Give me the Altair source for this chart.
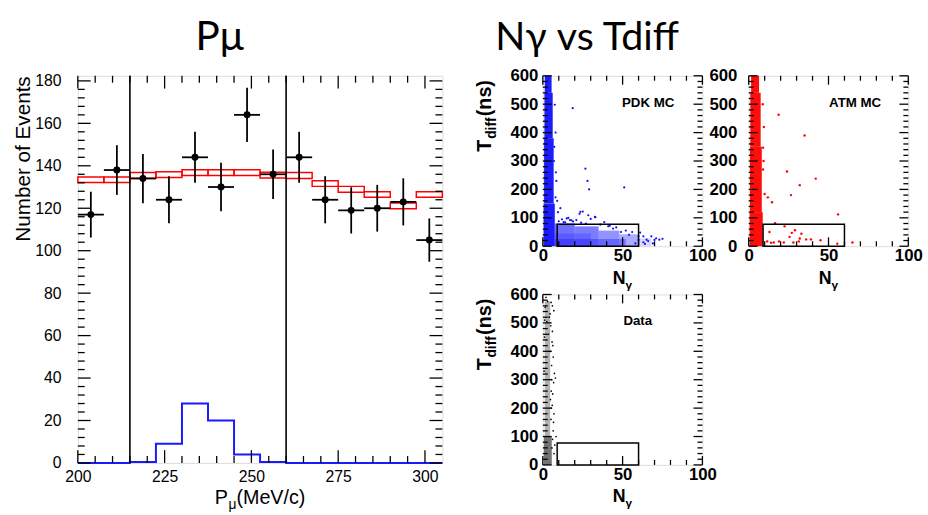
import altair as alt
import pandas as pd

# ---------------- Left panel : P_mu histogram ----------------
bin_lo = [200.0, 207.5, 215.0, 222.5, 230.0, 237.5, 245.0, 252.5, 260.0, 267.5, 275.0, 282.5, 290.0, 297.5]
bin_hi = [207.5, 215.0, 222.5, 230.0, 237.5, 245.0, 252.5, 260.0, 267.5, 275.0, 282.5, 290.0, 297.5, 305.0]
bin_mid = [203.75, 211.25, 218.75, 226.25, 233.75, 241.25, 248.75, 256.25, 263.75, 271.25, 278.75, 286.25, 293.75, 301.25]
data_n = [117, 138, 134, 124, 144, 130, 164, 136, 144, 124, 119, 120, 123, 105]
data_err = [10.8, 11.7, 11.6, 11.1, 12.0, 11.4, 12.8, 11.7, 12.0, 11.1, 10.9, 11.0, 11.1, 10.2]
mc_lo = [132.1, 132.1, 134.1, 134.5, 135.4, 135.4, 135.4, 134.2, 134.0, 130.3, 127.5, 125.2, 119.8, 125.2]
mc_hi = [134.7, 134.7, 136.8, 137.2, 138.1, 138.1, 138.1, 137.0, 136.8, 133.0, 130.3, 127.8, 122.5, 127.8]
sig_edge = [200.0, 207.5, 215.0, 222.5, 230.0, 237.5, 245.0, 252.5, 260.0, 267.5, 275.0, 282.5, 290.0, 297.5, 305.0]
sig_n = [0, 0, 0.5, 9, 28, 20, 4, 0.5, 0, 0, 0, 0, 0, 0, 0]
cut_x = [215, 260]

left_xticks = [200, 225, 250, 275, 300]
left_yticks = [0, 20, 40, 60, 80, 100, 120, 140, 160, 180]
left_xminor = [v for v in range(205, 305, 5) if v % 25 != 0]
left_yminor = [v for v in range(4, 182, 4) if v % 20 != 0]

# ---------------- Right panels : N_gamma vs T_diff ----------------
# dense regions of the scatter (x0, x1, y0, y1, opacity)
pdk_band_x0 = [1.2, 1.0, 0.8, 0.5, 7.5, 20, 35, 48, 60, 7.5, 7.5]
pdk_band_x1 = [5.5, 6.2, 6.8, 7.5, 20, 35, 48, 60, 68, 52, 30]
pdk_band_y0 = [540, 380, 150, 0, 0, 0, 0, 0, 0, 0, 0]
pdk_band_y1 = [600, 540, 380, 150, 80, 70, 55, 42, 28, 25, 45]
pdk_band_op = [0.95, 0.95, 0.95, 0.95, 0.6, 0.55, 0.45, 0.35, 0.16, 0.35, 0.22]
pdk_pt_x = [18.75, 26.7, 28, 29, 51, 11, 23, 25, 16, 18, 30, 33, 13, 38.5, 8, 7.5, 8.5, 7, 23.5, 28.5,
            32.6, 15, 17, 21, 60, 63, 65, 68, 70, 73, 60, 63, 58, 61, 54, 9, 8, 7.2, 8.2, 9.5,
            42, 46, 52, 56, 66, 71, 75, 64, 69, 10, 12, 14, 19, 24, 27, 36, 41, 44, 49]
pdk_pt_y = [486, 273, 230, 200, 207, 134, 114, 122, 100, 91, 96, 102, 85, 85, 172, 498, 230, 300, 121, 109,
            103, 98, 92, 92, 35, 35, 23, 35, 22, 23, 22, 14, 10, 48, 40, 160, 400, 350, 260, 120,
            72, 66, 55, 50, 18, 28, 26, 8, 10, 88, 95, 84, 87, 83, 80, 76, 70, 62, 50]

atm_band_x0 = [1.5, 1.0, 0.8, 0.6]
atm_band_x1 = [6.5, 7.5, 8.2, 8.8]
atm_band_y0 = [540, 350, 120, 0]
atm_band_y1 = [600, 540, 350, 120]
atm_band_op = [0.95, 0.95, 0.95, 0.95]
atm_pt_x = [18.75, 35, 9, 24, 42, 32, 26.5, 12, 14.6, 10, 56, 16.5, 22.5, 13, 29, 25.6, 32, 33, 39, 65,
            55.5, 45, 36, 27, 11.6, 15.7, 19, 22, 28, 31.4, 14, 9.5, 9, 9.3, 8.8]
atm_pt_y = [463, 390, 347, 263, 238, 215, 180, 172, 155, 184, 112, 81, 70, 50, 56, 33, 27, 44, 24, 13,
            9, 21, 24, 47, 17, 13, 17, 13, 13, 17, 12, 420, 270, 300, 500]

dat_band_x0 = [1.2, 0.7]
dat_band_x1 = [4.6, 5.6]
dat_band_y0 = [100, 0]
dat_band_y1 = [575, 100]
dat_band_op = [0.3, 0.55]
dat_pt_x = [5.2, 6.9, 4.6, 6.0, 7.9, 7.3, 6.5, 5.8, 6.2, 7.0, 6.5, 7.5, 8.3, 6.0, 5.5, 6.8, 2.0, 3.0, 1.5, 4.0,
            2.5, 5.0, 3.5, 6.3, 5.9, 6.7, 6.1, 7.0, 5.3, 5.6, 4.9, 5.4, 1.0, 0.8, 5.1, 4.8, 5.7, 1.1]
dat_pt_y = [572, 543, 532, 560, 306, 322, 380, 433, 250, 180, 120, 70, 100, 470, 350, 290, 590, 575, 555, 520,
            505, 490, 460, 420, 210, 150, 90, 40, 260, 300, 400, 200, 450, 330, 160, 230, 60, 510]

box_x0 = [9]
box_x1 = [60]
box_y0 = [0]
box_y1 = [77]

r_xticks = [0, 50, 100]
r_xminor = [10, 20, 30, 40, 60, 70, 80, 90]
r_yticks = [0, 100, 200, 300, 400, 500, 600]
r_yminor = [v for v in range(20, 600, 20) if v % 100 != 0]

FONT = "Liberation Sans"
TFONT = "Lato, Noto Sans, sans-serif"


def tick_layers(xs, ys, xax, yax, xmaj, xmin, ymaj, ymin, W, H, Lmaj, Lmin, sw):
    layers = []
    for vals, L in ((xmaj, Lmaj), (xmin, Lmin)):
        base = alt.Chart(pd.DataFrame({"v": vals})).mark_rule(color="black", strokeWidth=sw)
        layers.append(base.encode(x=alt.X("v:Q", scale=xs, axis=xax), y=alt.value(H), y2=alt.value(H - L)))
        layers.append(base.encode(x=alt.X("v:Q", scale=xs, axis=xax), y=alt.value(0), y2=alt.value(L)))
    for vals, L in ((ymaj, Lmaj), (ymin, Lmin)):
        base = alt.Chart(pd.DataFrame({"v": vals})).mark_rule(color="black", strokeWidth=sw)
        layers.append(base.encode(y=alt.Y("v:Q", scale=ys, axis=yax), x=alt.value(0), x2=alt.value(L)))
        layers.append(base.encode(y=alt.Y("v:Q", scale=ys, axis=yax), x=alt.value(W), x2=alt.value(W - L)))
    return layers


def text_at(txt, x, y, size, weight="normal", angle=0, align="left", font=FONT):
    return alt.Chart(pd.DataFrame({"t": [txt]})).mark_text(
        font=font, fontSize=size, fontWeight=weight, angle=angle, align=align,
        baseline="alphabetic", color="black"
    ).encode(x=alt.value(x), y=alt.value(y), text="t:N")


# ---------- build left chart ----------
WL, HL = 370, 393
xsL = alt.Scale(domain=[200, 305], nice=False, zero=False)
ysL = alt.Scale(domain=[0, 182.4], nice=False)
left_df = pd.DataFrame({
    "lo": bin_lo, "hi": bin_hi, "mid": bin_mid, "n": data_n, "err": data_err,
    "mc_lo": mc_lo, "mc_hi": mc_hi,
})
left_df["elo"] = left_df["n"] - left_df["err"]
left_df["ehi"] = left_df["n"] + left_df["err"]
sig_df = pd.DataFrame({"x": sig_edge, "n": sig_n})
cut_df = pd.DataFrame({"x": cut_x})

xaxisL = alt.Axis(values=left_xticks, title=None, labelFontSize=16, labelFont=FONT, labelPadding=6,
                  labelFlush=False, grid=False, ticks=False, domain=False)
yaxisL = alt.Axis(values=left_yticks, title="Number of Events", titleFontSize=21, titleFont=FONT,
                  titleFontWeight="normal", titlePadding=1, titleAnchor="end", labelFontSize=16,
                  labelFont=FONT, labelPadding=17, labelFlush=False, grid=False, ticks=False, domain=False)

mc_boxes = alt.Chart(left_df).mark_rect(fillOpacity=0, stroke="#ff0000", strokeWidth=1.5).encode(
    x=alt.X("lo:Q", scale=xsL, axis=xaxisL), x2="hi:Q",
    y=alt.Y("mc_lo:Q", scale=ysL, axis=yaxisL), y2="mc_hi:Q")
sig_line = alt.Chart(sig_df).mark_line(interpolate="step-after", color="#1a1aff", strokeWidth=2).encode(
    x=alt.X("x:Q", scale=xsL, axis=xaxisL), y=alt.Y("n:Q", scale=ysL, axis=yaxisL))
cut_rules = alt.Chart(cut_df).mark_rule(color="black", strokeWidth=1.6).encode(
    x=alt.X("x:Q", scale=xsL, axis=xaxisL))
err_v = alt.Chart(left_df).mark_rule(color="black", strokeWidth=1.8).encode(
    x=alt.X("mid:Q", scale=xsL, axis=xaxisL), y=alt.Y("elo:Q", scale=ysL, axis=yaxisL), y2="ehi:Q")
err_h = alt.Chart(left_df).mark_rule(color="black", strokeWidth=1.8).encode(
    x=alt.X("lo:Q", scale=xsL, axis=xaxisL), x2="hi:Q", y=alt.Y("n:Q", scale=ysL, axis=yaxisL))
pts = alt.Chart(left_df).mark_circle(color="black", size=50, opacity=1).encode(
    x=alt.X("mid:Q", scale=xsL, axis=xaxisL), y=alt.Y("n:Q", scale=ysL, axis=yaxisL))

left_layers = [mc_boxes, sig_line, cut_rules, err_v, err_h, pts]
left_layers += tick_layers(xsL, ysL, xaxisL, yaxisL, left_xticks, left_xminor, left_yticks, left_yminor,
                           WL, HL, 13, 7, 1.3)
left_layers += [
    text_at("P", 139, HL + 42, 20),
    text_at("μ", 153, HL + 47, 14),
    text_at("(MeV/c)", 161, HL + 42, 20),
    text_at("Pμ", 144, -26, 41, align="center", font=TFONT),
]
left = alt.layer(*left_layers).properties(width=WL, height=HL)


# ---------- right panels ----------
def panel(bx0, bx1, by0, by1, bop, px, py, color, dot, label, lab_x, ylabpad, ytitle, extra=None):
    W, H = 162, 173
    xs = alt.Scale(domain=[0, 100], nice=False)
    ys = alt.Scale(domain=[0, 600], nice=False)
    xax = alt.Axis(values=r_xticks, title=None, labelFontSize=17, labelFontWeight="bold", labelFont=FONT,
                   labelPadding=2, labelFlush=False, grid=False, ticks=False, domain=False)
    yax = alt.Axis(values=r_yticks, title=None, labelFontSize=17, labelFontWeight="bold", labelFont=FONT,
                   labelPadding=ylabpad, labelFlush=False, grid=False, ticks=False, domain=False)
    band_df = pd.DataFrame({"x0": bx0, "x1": bx1, "y0": by0, "y1": by1, "op": bop})
    pt_df = pd.DataFrame({"x": px, "y": py})
    box_df = pd.DataFrame({"x0": box_x0, "x1": box_x1, "y0": box_y0, "y1": box_y1})
    lab_df = pd.DataFrame({"x": [lab_x], "y": [505], "t": [label]})
    band = alt.Chart(band_df).mark_rect(color=color).encode(
        x=alt.X("x0:Q", scale=xs, axis=xax), x2="x1:Q",
        y=alt.Y("y0:Q", scale=ys, axis=yax), y2="y1:Q",
        opacity=alt.Opacity("op:Q", scale=None))
    dots = alt.Chart(pt_df).mark_circle(color=color, size=dot, opacity=1).encode(
        x=alt.X("x:Q", scale=xs, axis=xax), y=alt.Y("y:Q", scale=ys, axis=yax))
    box = alt.Chart(box_df).mark_rect(fillOpacity=0, stroke="black", strokeWidth=1.5).encode(
        x=alt.X("x0:Q", scale=xs, axis=xax), x2="x1:Q",
        y=alt.Y("y0:Q", scale=ys, axis=yax), y2="y1:Q")
    lab = alt.Chart(lab_df).mark_text(font=FONT, fontSize=13.5, fontWeight="bold", color="black").encode(
        x=alt.X("x:Q", scale=xs, axis=xax), y=alt.Y("y:Q", scale=ys, axis=yax), text="t:N")
    layers = [band, dots, box, lab]
    layers += tick_layers(xs, ys, xax, yax, r_xticks, r_xminor, r_yticks, r_yminor, W, H, 9, 5, 1.3)
    layers += [
        text_at("N", 71, H + 38, 18, "bold"),
        text_at("γ", 84, H + 43, 12, "bold"),
    ]
    if ytitle:
        layers += [
            text_at("T", -53, 77, 20, "bold", angle=270),
            text_at("diff", -48, 64, 14, "bold", angle=270),
            text_at("(ns)", -53, 41, 20, "bold", angle=270),
        ]
    if extra is not None:
        layers += extra
    return alt.layer(*layers).properties(width=W, height=H)


pdk = panel(pdk_band_x0, pdk_band_x1, pdk_band_y0, pdk_band_y1, pdk_band_op, pdk_pt_x, pdk_pt_y,
            "#1010ff", 5, "PDK MC", 66, 5, True,
            extra=[text_at("Nγ vs Tdiff", 45, -26, 40, align="center", font=TFONT)])
atm = panel(atm_band_x0, atm_band_x1, atm_band_y0, atm_band_y1, atm_band_op, atm_pt_x, atm_pt_y,
            "#ff0000", 6, "ATM MC", 66.7, 12, False)
dat = panel(dat_band_x0, dat_band_x1, dat_band_y0, dat_band_y1, dat_band_op, dat_pt_x, dat_pt_y,
            "#000000", 3, "Data", 59.5, 5, True)

vcol = alt.vconcat(pdk, dat, spacing=49, bounds="flush")
inner = alt.hconcat(left, vcol, spacing=102, bounds="flush")
chart = alt.hconcat(inner, atm, spacing=681, bounds="flush").properties(
    padding={"left": 12, "top": 13, "right": 5, "bottom": 5}
).configure_view(stroke="black", strokeWidth=2).configure_axis(
    domain=False, ticks=False, grid=False, labelColor="black"
).configure(background="white")

chart.save("out.html", embed_options={"renderer": "svg", "actions": False})
